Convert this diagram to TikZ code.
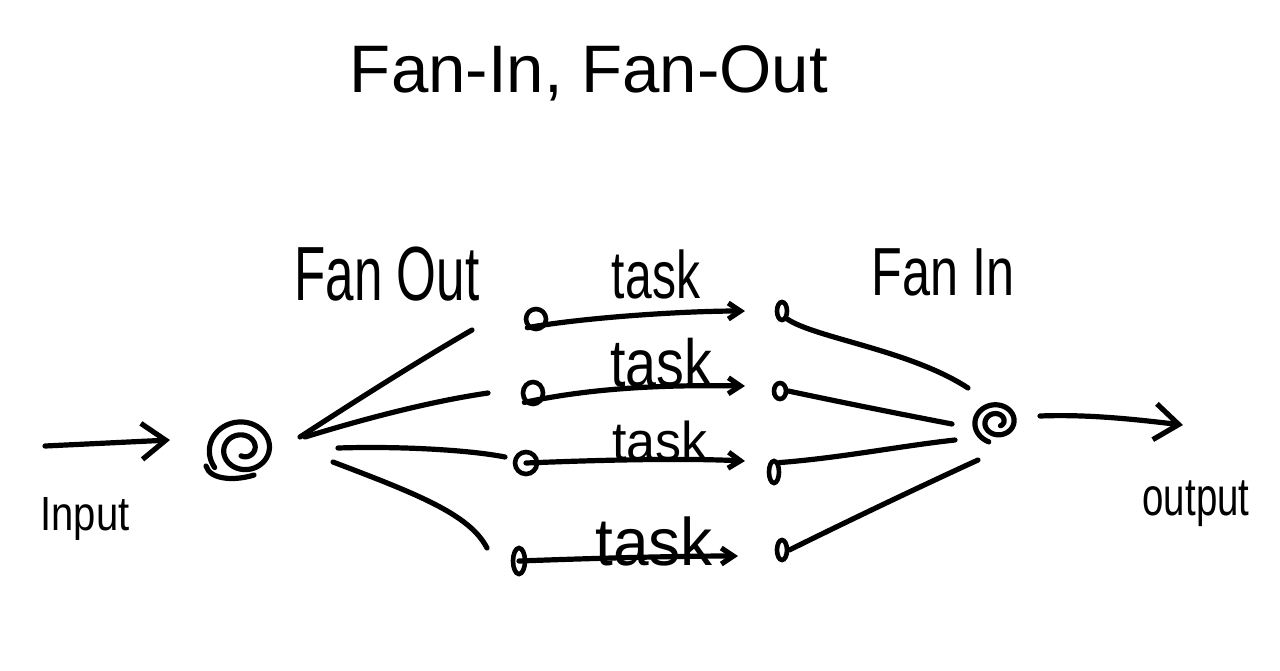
\documentclass[tikz,border=0pt]{standalone}
\usepackage{fontspec}
\setmainfont{Liberation Sans}
\usetikzlibrary{arrows.meta,shapes.geometric}
\tikzset{
  stroke/.style={line width=2.6pt, line cap=round, line join=round},
  arr/.style={stroke, -{Straight Barb[length=6pt,width=8pt]}},
  bigarr/.style={stroke, -{Straight Barb[length=12pt,width=18pt]}},
  dot/.style={draw, ellipse, line width=2.3pt, inner sep=0pt},
  lbl/.style={inner sep=0pt, anchor=base},
  hub/.style={circle, inner sep=0pt},
}
\begin{document}
\begin{tikzpicture}[x=0.5pt,y=-0.5pt]
\useasboundingbox (0,0) rectangle (1280,670);
% title
\node[lbl] (title) at (589,92) {\fontsize{33.6}{40}\selectfont Fan-In, Fan-Out};
% labels
\node[lbl] (lfo) at (387,300) {\scalebox{1}[1.5]{\fontsize{25.6}{30}\selectfont Fan Out}};
\node[lbl] (lfi) at (943,295) {\scalebox{1}[1.35]{\fontsize{25.2}{30}\selectfont Fan In}};
\node[lbl] (lin) at (85,530) {\scalebox{1}[1.2]{\fontsize{20}{24}\selectfont Input}};
\node[lbl] (lout) at (1196,515) {\scalebox{1}[1.4]{\fontsize{19.2}{24}\selectfont output}};
\node[lbl] (t1) at (656,298) {\scalebox{1}[1.4]{\fontsize{24}{28}\selectfont task}};
\node[lbl] (t2) at (661,386) {\scalebox{1}[1.2]{\fontsize{27.8}{32}\selectfont task}};
\node[lbl] (t3) at (660,460) {\scalebox{1}[1.05]{\fontsize{26}{30}\selectfont task}};
\node[lbl] (t4) at (654,565) {\scalebox{1}[1.05]{\fontsize{32}{36}\selectfont task}};
% hubs (spirals)
\node[hub, minimum size=34pt] (s1) at (243,449) {};
\draw[stroke] plot[domain=0:680, samples=160, smooth]
  ({243+(35-\x*0.04)*cos(144+\x)}, {449+0.9*(35-\x*0.04)*sin(144+\x)});
\draw[stroke] (206,466) .. controls (210,480) and (235,481) .. (254,475);
\node[hub, minimum size=24pt] (s2) at (997,422) {};
\draw[stroke] plot[domain=0:660, samples=160, smooth]
  ({997+(24-\x*0.028)*cos(110+\x)}, {422+0.88*(24-\x*0.028)*sin(110+\x)});
% task endpoints
\node[dot, minimum width=10pt, minimum height=10pt] (a1) at (536,319) {};
\node[dot, minimum width=10pt, minimum height=11pt] (a2) at (533,393) {};
\node[dot, minimum width=11pt, minimum height=11pt] (a3) at (526,463) {};
\node[dot, minimum width=6pt, minimum height=13pt] (a4) at (519,561) {};
\node[dot, minimum width=5pt, minimum height=9pt] (b1) at (782,311) {};
\node[dot, minimum width=6pt, minimum height=8pt] (b2) at (780,391) {};
\node[dot, minimum width=5pt, minimum height=11pt] (b3) at (774,472) {};
\node[dot, minimum width=5pt, minimum height=10pt] (b4) at (782,550) {};
% coordinates
\coordinate (in0) at (45,446);
\coordinate (in1) at (170,440);
\coordinate (o1) at (300,437); \coordinate (e1) at (472,330);
\coordinate (o2) at (305,437); \coordinate (e2) at (488,393);
\coordinate (o3) at (338,448); \coordinate (e3) at (505,457);
\coordinate (o4) at (333,462); \coordinate (e4) at (487,548);
\coordinate (h1) at (745,311);
\coordinate (h2) at (745,386);
\coordinate (h3) at (745,461);
\coordinate (h4) at (738,556);
\coordinate (c1) at (968,388);
\coordinate (c2) at (952,424);
\coordinate (c3) at (955,440);
\coordinate (c4) at (978,460);
\coordinate (out0) at (1040,416);
\coordinate (out1) at (1183,425);
% input / output
\draw[bigarr] (in0) -- (in1);
\draw[bigarr] (out0) .. controls (1090,414) and (1140,420) .. (out1);
% fan out
\draw[stroke] (o1) .. controls (360,398) and (420,360) .. (e1);
\draw[stroke] (o2) .. controls (380,414) and (440,400) .. (e2);
\draw[stroke] (o3) .. controls (400,446) and (470,450) .. (e3);
\draw[stroke] (o4) .. controls (420,495) and (470,515) .. (e4);
% tasks
\draw[arr] (a1.south west) .. controls (580,318) and (680,311) .. (h1);
\draw[arr] (a2.south west) .. controls (600,386) and (680,385) .. (h2);
\draw[arr] (a3.center) .. controls (600,460) and (680,458) .. (h3);
\draw[arr] (a4.center) .. controls (600,558) and (680,556) .. (h4);
% fan in
\draw[stroke] (b1.south east) .. controls (815,338) and (910,350) .. (c1);
\draw[stroke] (b2.east) .. controls (840,402) and (900,414) .. (c2);
\draw[stroke] (b3.north east) .. controls (840,458) and (900,446) .. (c3);
\draw[stroke] (b4.east) .. controls (860,515) and (930,482) .. (c4);
\end{tikzpicture}
\end{document}
